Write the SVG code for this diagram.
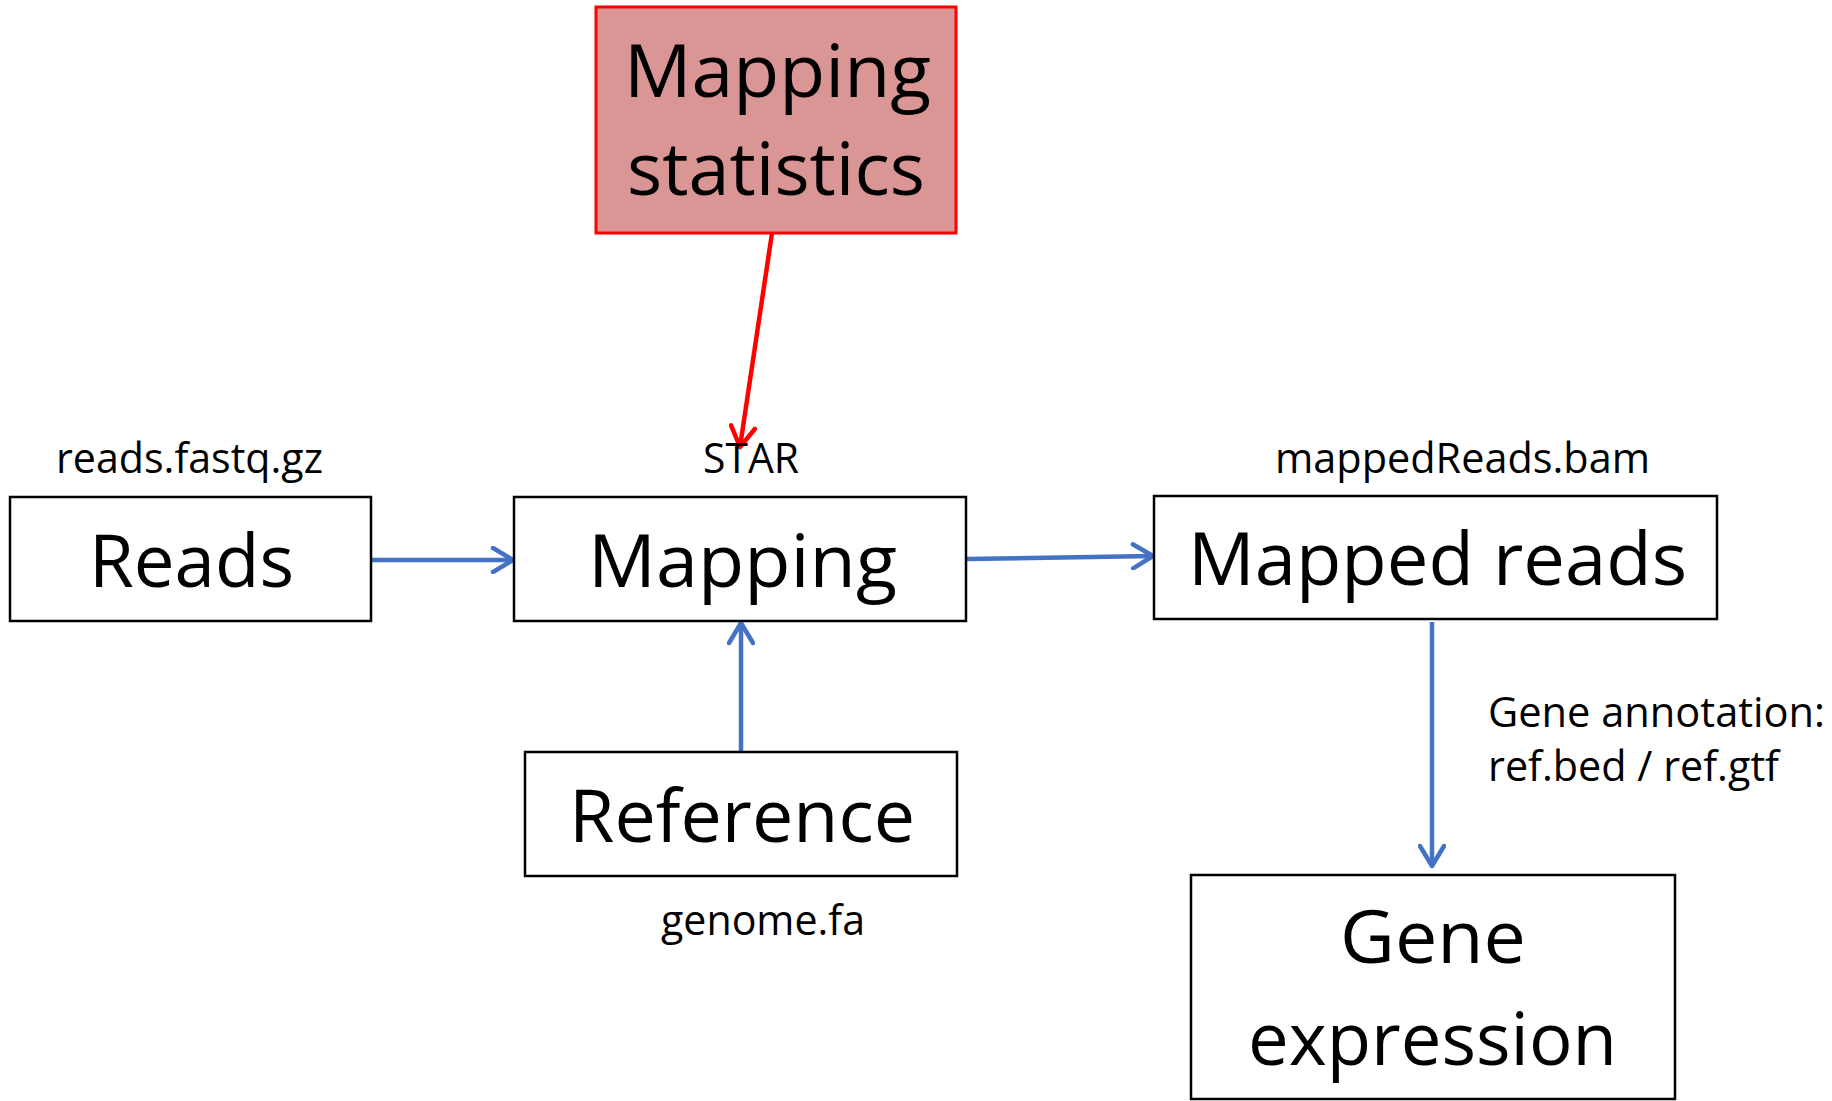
<svg xmlns="http://www.w3.org/2000/svg" width="1832" height="1101" viewBox="0 0 1832 1101">
  <style>
    .box { fill: #ffffff; stroke: #000000; stroke-width: 2.5; }
    .stat { fill: #DA9694; stroke: #FF0000; stroke-width: 3; }
    .big { font-family: "Open Sans", "Liberation Sans", sans-serif; font-size: 73px; fill: #000; }
    .small { font-family: "Open Sans", "Liberation Sans", sans-serif; font-size: 42px; fill: #000; }
    .blue { stroke: #4472C4; stroke-width: 4.5; fill: none; }
    .red { stroke: #FF0000; stroke-width: 4.5; fill: none; }
  </style>
  <defs>
    <marker id="arrBlue" viewBox="0 0 26 28" refX="23" refY="14" markerWidth="26" markerHeight="28" markerUnits="userSpaceOnUse" orient="auto">
      <path d="M3,2 L23,14 L3,26" fill="none" stroke="#4472C4" stroke-width="4.5" stroke-linecap="round" stroke-linejoin="round"/>
    </marker>
    <marker id="arrRed" viewBox="0 0 26 28" refX="23" refY="14" markerWidth="26" markerHeight="28" markerUnits="userSpaceOnUse" orient="auto">
      <path d="M3,2 L23,14 L3,26" fill="none" stroke="#FF0000" stroke-width="4.5" stroke-linecap="round" stroke-linejoin="round"/>
    </marker>
  </defs>
  <rect width="1832" height="1101" fill="#ffffff"/>

  <g id="connectors">
    <line class="blue" x1="371" y1="560" x2="513" y2="560" marker-end="url(#arrBlue)"/>
    <line class="blue" x1="966" y1="559" x2="1153" y2="556" marker-end="url(#arrBlue)"/>
    <line class="blue" x1="741" y1="752" x2="741" y2="623" marker-end="url(#arrBlue)"/>
    <line class="blue" x1="1432" y1="622" x2="1432" y2="866" marker-end="url(#arrBlue)"/>
    <line class="red" x1="772" y1="233" x2="740" y2="447" marker-end="url(#arrRed)"/>
  </g>

  <g id="node-mapping-statistics">
    <rect class="stat" x="596" y="7" width="360" height="226"/>
    <text class="big" x="624" y="97" textLength="307" lengthAdjust="spacingAndGlyphs">Mapping</text>
    <text class="big" x="627" y="195" textLength="298" lengthAdjust="spacingAndGlyphs">statistics</text>
  </g>

  <g id="node-reads">
    <text class="small" x="56" y="473" textLength="267" lengthAdjust="spacingAndGlyphs">reads.fastq.gz</text>
    <rect class="box" x="10" y="497" width="361" height="124"/>
    <text class="big" x="89" y="587" textLength="205" lengthAdjust="spacingAndGlyphs">Reads</text>
  </g>

  <g id="node-mapping">
    <text class="small" x="703" y="473" textLength="96" lengthAdjust="spacingAndGlyphs">STAR</text>
    <rect class="box" x="514" y="497" width="452" height="124"/>
    <text class="big" x="588" y="587" textLength="309" lengthAdjust="spacingAndGlyphs">Mapping</text>
  </g>

  <g id="node-mapped-reads">
    <text class="small" x="1275" y="473" textLength="375" lengthAdjust="spacingAndGlyphs">mappedReads.bam</text>
    <rect class="box" x="1154" y="496" width="563" height="123"/>
    <text class="big" x="1188" y="585" textLength="499" lengthAdjust="spacingAndGlyphs">Mapped reads</text>
  </g>

  <g id="node-reference">
    <rect class="box" x="525" y="752" width="432" height="124"/>
    <text class="big" x="569" y="842" textLength="346" lengthAdjust="spacingAndGlyphs">Reference</text>
    <text class="small" x="661" y="935" textLength="204" lengthAdjust="spacingAndGlyphs">genome.fa</text>
  </g>

  <g id="label-annotation">
    <text class="small" x="1488" y="727" textLength="337" lengthAdjust="spacingAndGlyphs">Gene annotation:</text>
    <text class="small" x="1488" y="781" textLength="291" lengthAdjust="spacingAndGlyphs">ref.bed / ref.gtf</text>
  </g>

  <g id="node-gene-expression">
    <rect class="box" x="1191" y="875" width="484" height="224"/>
    <text class="big" x="1340" y="963" textLength="186" lengthAdjust="spacingAndGlyphs">Gene</text>
    <text class="big" x="1248" y="1065" textLength="369" lengthAdjust="spacingAndGlyphs">expression</text>
  </g>
</svg>
